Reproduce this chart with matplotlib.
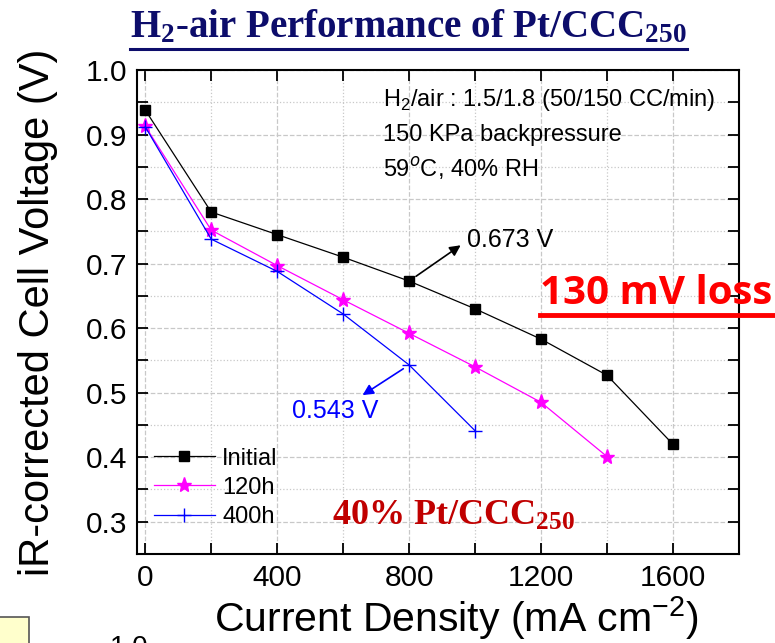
import matplotlib
matplotlib.use("Agg")
import matplotlib.pyplot as plt
from matplotlib.ticker import MultipleLocator
from matplotlib.patches import Rectangle
from matplotlib.lines import Line2D

SANS = "Liberation Sans"
plt.rcParams["mathtext.fontset"] = "custom"
plt.rcParams["mathtext.rm"] = SANS
plt.rcParams["mathtext.bf"] = "Liberation Serif:bold"

# ---- data ----
current = [0, 200, 400, 600, 800, 1000, 1200, 1400, 1600]
v_initial = [0.938, 0.780, 0.745, 0.710, 0.673, 0.630, 0.583, 0.527, 0.420]
v_120h = [0.913, 0.752, 0.697, 0.644, 0.592, 0.540, 0.485, 0.401]
v_400h = [0.912, 0.738, 0.688, 0.622, 0.543, 0.441]
series_labels = ["Initial", "120h", "400h"]
xticks = [0, 400, 800, 1200, 1600]
conditions = ["H$_2$/air : 1.5/1.8 (50/150 CC/min)",
              "150 KPa backpressure",
              "59$^{o}$C, 40% RH"]

fig = plt.figure(figsize=(7.75, 6.43), dpi=100)
ax = fig.add_axes([0.1768, 0.1384, 0.9535 - 0.1768, 0.891 - 0.1384])

ax.plot(current[:len(v_initial)], v_initial, color="black", lw=0.9,
        marker="s", ms=7, label=series_labels[0])
ax.plot(current[:len(v_120h)], v_120h, color="#FF00FF", lw=0.9,
        marker="*", ms=11, label=series_labels[1])
ax.plot(current[:len(v_400h)], v_400h, color="#0000FF", lw=0.9,
        marker="+", ms=10, mew=1.0, label=series_labels[2])

ax.set_xlim(-25, 1800)
ax.set_ylim(0.25, 1.0)
ax.set_xticks(xticks)
ax.xaxis.set_minor_locator(MultipleLocator(200))
ax.set_yticks([0.3, 0.4, 0.5, 0.6, 0.7, 0.8, 0.9, 1.0])
ax.yaxis.set_minor_locator(MultipleLocator(0.05))
ax.tick_params(which="both", direction="in", length=8, width=1.3,
               top=True, right=True, labelsize=21.5)
ax.tick_params(axis="x", pad=7)
ax.tick_params(axis="y", pad=7)
for lab in ax.get_xticklabels() + ax.get_yticklabels():
    lab.set_family(SANS)
for sp in ax.spines.values():
    sp.set_linewidth(1.5)

ax.grid(which="major", color="#C8C8C8", linestyle="--", lw=0.9)
ax.grid(which="minor", color="#C8C8C8", linestyle=":", lw=0.9)
ax.set_axisbelow(True)

ax.set_xlabel("Current Density (mA cm$^{-2}$)", fontsize=29.5,
              family=SANS, labelpad=2)
ax.xaxis.label.set_x(0.53)
ax.set_ylabel("iR-corrected Cell Voltage (V)", fontsize=30,
              family=SANS, labelpad=20)

ax.legend(loc="lower left", bbox_to_anchor=(0.0, 0.02), frameon=False,
          prop={"family": SANS, "size": 17},
          handlelength=2.6, handletextpad=0.3, labelspacing=0.3,
          borderpad=0.2)

# condition notes
for i, txt in enumerate(conditions):
    ax.text(720, 0.953 - i * 0.053, txt, fontsize=17,
            family=SANS, va="center", ha="left")

# value annotations (arrow heads point at the labels)
ax.annotate("0.673 V", xy=(800, v_initial[4]), xytext=(975, 0.737),
            fontsize=18, family=SANS, va="center", ha="left",
            arrowprops=dict(arrowstyle="<|-", color="black", lw=1.2,
                            shrinkA=3, shrinkB=6, mutation_scale=16,
                            relpos=(0.0, 0.45)))
ax.annotate("0.543 V", xy=(800, v_400h[4]), xytext=(445, 0.471),
            fontsize=18, family=SANS, va="center", ha="left",
            color="#0000FF",
            arrowprops=dict(arrowstyle="<|-", color="#0000FF", lw=1.2,
                            shrinkA=2, shrinkB=5, mutation_scale=16,
                            relpos=(0.74, 1.0)))

ax.text(565, 0.309, "40% Pt/CCC$\\mathbf{_{250}}$", fontsize=26,
        family="Liberation Serif", weight="bold", color="#C00000",
        ha="left", va="center")

# title and red loss label, underlined
title = fig.text(0.527, 0.958, "$\\mathbf{H_2}$-air Performance of Pt/CCC$\\mathbf{_{250}}$",
                 fontsize=28, family="Liberation Serif", weight="bold",
                 color="#0D0D6B", ha="center", va="center")
loss = fig.text(0.997, 0.543, "130 mV loss", fontsize=29, family="Open Sans",
                weight="bold", color="#FF0000", ha="right", va="center")

fig.canvas.draw()
r = fig.canvas.get_renderer()
inv = fig.transFigure.inverted()
for t, col, lw, off in [(title, "#0D0D6B", 2.2, 3), (loss, "#FF0000", 3.5, 2)]:
    bb = t.get_window_extent(r)
    (x0, y0), (x1, y1) = inv.transform([(bb.x0, bb.y0 - off), (bb.x1, bb.y0 - off)])
    fig.add_artist(Line2D([x0, x1], [y0, y1], color=col, lw=lw,
                          transform=fig.transFigure))

# slide leftovers in the corner (cut off at the bottom edge, as in the source)
fig.add_artist(Rectangle((-0.01, -0.01), 0.048, 0.05, transform=fig.transFigure,
                         facecolor="#FFFFCC", edgecolor="#555555", lw=1.2))
fig.text(0.142, 0.012, "1.0", fontsize=20, family=SANS, va="top", ha="left")

fig.savefig("out.png", dpi=100)
